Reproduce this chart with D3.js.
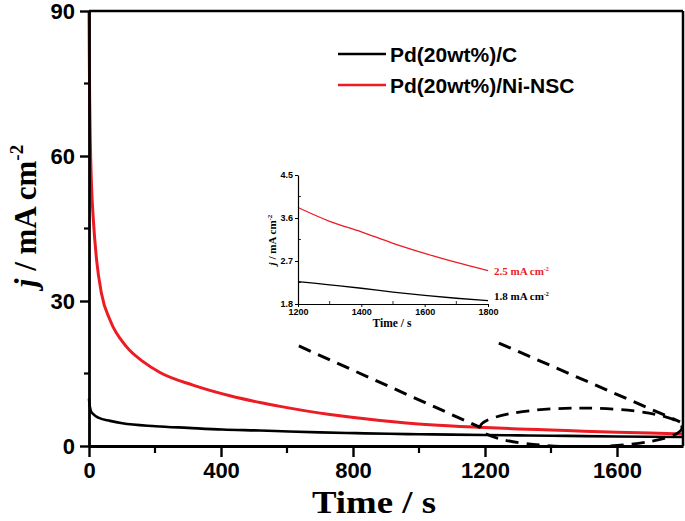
<!DOCTYPE html>
<html>
<head>
<meta charset="utf-8">
<script src="https://cdn.jsdelivr.net/npm/d3@7"></script>
<style>
  body { margin: 0; background: #fff; }
  svg { display: block; }
  .tick text { font-family: "Liberation Sans", Arial, sans-serif; font-weight: bold; }
</style>
</head>
<body>
<svg id="chart" width="685" height="521"></svg>
<script>
// chronoamperometry data (time in s, current density in mA cm-2)
var timeC   = [0, 1, 3, 6, 13, 30, 64, 101, 202, 300, 404, 518, 606, 700, 808, 909, 1000, 1100, 1200, 1300, 1400, 1500, 1600, 1700, 1800];
var jC      = [9.8, 9.0, 8.0, 7.2, 6.6, 5.8, 5.2, 4.7, 4.1, 3.75, 3.4, 3.2, 3.0, 2.82, 2.66, 2.52, 2.44, 2.35, 2.27, 2.2, 2.13, 2.05, 1.98, 1.92, 1.87];
var timeNi  = [0, 1, 2, 4, 7, 13, 23, 38, 64, 114, 165, 215, 315, 427, 518, 579, 730, 882, 1033, 1200, 1300, 1400, 1500, 1600, 1700, 1800];
var jNi     = [90, 80, 72, 63, 55, 47, 38.5, 31.5, 26, 20.5, 17.4, 15.2, 12.6, 10.4, 9.0, 8.2, 6.5, 5.3, 4.4, 3.82, 3.53, 3.31, 3.07, 2.86, 2.67, 2.5];

var seriesNames = ["Pd(20wt%)/C", "Pd(20wt%)/Ni-NSC"];
var seriesColors = ["#000000", "#ec1c24"];

var xTicks = [0, 400, 800, 1200, 1600];
var yTicks = [0, 30, 60, 90];
var insetXTicks = [1200, 1400, 1600, 1800];
var insetYTicks = [1.8, 2.7, 3.6, 4.5];
var insetEndLabels = ["2.5 mA cm", "1.8 mA cm"];

var svg = d3.select("#chart");

// main scales
var x = d3.scaleLinear().domain([0, 1800]).range([89, 683]);
var y = d3.scaleLinear().domain([0, 90]).range([446, 11]);

var dataC = timeC.map(function(t, i){ return {t: t, j: jC[i]}; });
var dataNi = timeNi.map(function(t, i){ return {t: t, j: jNi[i]}; });

var line = d3.line()
    .x(function(d){ return x(d.t); })
    .y(function(d){ return y(d.j); })
    .curve(d3.curveMonotoneX);

// curves
svg.append("path").datum(dataC)
    .attr("d", line).attr("fill", "none")
    .attr("stroke", seriesColors[0]).attr("stroke-width", 2.6);
svg.append("path").datum(dataNi)
    .attr("d", line).attr("fill", "none")
    .attr("stroke", seriesColors[1]).attr("stroke-width", 3);

// frame top + right
svg.append("line").attr("x1", x(0)).attr("x2", x(1800)).attr("y1", y(90)).attr("y2", y(90))
    .attr("stroke", "#000").attr("stroke-width", 2.5);
svg.append("line").attr("x1", x(1800)).attr("x2", x(1800)).attr("y1", y(90)).attr("y2", y(0))
    .attr("stroke", "#000").attr("stroke-width", 2.5);

// minor ticks
var xMinor = d3.range(200, 1800, 400);
var yMinor = [15, 45, 75];
svg.append("g").selectAll("line").data(xMinor).enter().append("line")
    .attr("x1", function(d){ return x(d); }).attr("x2", function(d){ return x(d); })
    .attr("y1", y(0)).attr("y2", y(0) + 7)
    .attr("stroke", "#000").attr("stroke-width", 2.2);
svg.append("g").selectAll("line").data(yMinor).enter().append("line")
    .attr("y1", function(d){ return y(d); }).attr("y2", function(d){ return y(d); })
    .attr("x1", x(0)).attr("x2", x(0) - 5)
    .attr("stroke", "#000").attr("stroke-width", 2.2);

// x axis
var gx = svg.append("g")
    .attr("transform", "translate(0," + y(0) + ")")
    .call(d3.axisBottom(x).tickValues(xTicks).tickSize(11).tickSizeOuter(0).tickPadding(5)
        .tickFormat(d3.format("d")));
gx.select(".domain").attr("stroke-width", 2.8);
gx.selectAll(".tick line").attr("stroke-width", 2.4);
gx.selectAll(".tick text").attr("font-size", 22).attr("fill", "#000");

// y axis
var gy = svg.append("g")
    .attr("transform", "translate(" + x(0) + ",0)")
    .call(d3.axisLeft(y).tickValues(yTicks).tickSize(9).tickSizeOuter(0).tickPadding(5));
gy.select(".domain").attr("stroke-width", 2.8);
gy.selectAll(".tick line").attr("stroke-width", 2.4);
gy.selectAll(".tick text").attr("font-size", 22).attr("fill", "#000");

// axis titles
svg.append("text")
    .attr("transform", "translate(374,513) scale(1.15,1)")
    .attr("text-anchor", "middle")
    .style("font-family", "'Liberation Serif', 'Times New Roman', serif")
    .style("font-weight", "bold").style("font-size", "32px")
    .text("Time / s");

var yTitle = svg.append("text")
    .attr("transform", "translate(36,216) rotate(-90)")
    .attr("text-anchor", "middle")
    .style("font-family", "'Liberation Serif', 'Times New Roman', serif")
    .style("font-weight", "bold").style("font-size", "31px");
yTitle.append("tspan").style("font-style", "italic").text("j");
yTitle.append("tspan").text(" / mA cm");
yTitle.append("tspan").attr("dy", -13).style("font-size", "19px").text("-2");

// legend
var legend = svg.append("g").selectAll("g").data(seriesNames).enter().append("g")
    .attr("transform", function(d, i){ return "translate(338," + (54 + i * 31) + ")"; });
legend.append("line").attr("x1", 0).attr("x2", 48).attr("y1", 0).attr("y2", 0)
    .attr("stroke", function(d, i){ return seriesColors[i]; }).attr("stroke-width", 2.6);
legend.append("text").attr("x", 52).attr("y", 7.5)
    .style("font-family", "'Liberation Sans', Arial, sans-serif")
    .style("font-weight", "bold").style("font-size", "21px")
    .text(function(d){ return d; });

// zoom guides (data coordinates)
var guide1 = [{t: 636, j: 20.7}, {t: 1184, j: 3.9}];
var guide2 = [{t: 1242, j: 21.3}, {t: 1791, j: 5.0}];
var guideLine = d3.line().x(function(d){ return x(d.t); }).y(function(d){ return y(d.j); });
[guide1, guide2].forEach(function(g){
    svg.append("path").datum(g).attr("d", guideLine)
        .attr("fill", "none").attr("stroke", "#000").attr("stroke-width", 3)
        .attr("stroke-dasharray", "13,8");
});
svg.append("ellipse")
    .attr("cx", x(1491)).attr("cy", y(3.85))
    .attr("rx", x(1491 + 306) - x(1491)).attr("ry", y(0) - y(4.0))
    .attr("fill", "none").attr("stroke", "#000").attr("stroke-width", 2.8)
    .attr("stroke-dasharray", "13,8");

// inset
var xi = d3.scaleLinear().domain([1200, 1800]).range([298, 488]);
var yi = d3.scaleLinear().domain([1.8, 4.5]).range([304, 175]);
var inset = svg.append("g");
var lineInset = d3.line()
    .x(function(d){ return xi(d.t); })
    .y(function(d){ return yi(d.j); })
    .curve(d3.curveMonotoneX);
inset.append("path").datum(dataC.filter(function(d){ return d.t >= 1200; }))
    .attr("d", lineInset).attr("fill", "none")
    .attr("stroke", seriesColors[0]).attr("stroke-width", 1.3);
inset.append("path").datum(dataNi.filter(function(d){ return d.t >= 1200; }))
    .attr("d", lineInset).attr("fill", "none")
    .attr("stroke", seriesColors[1]).attr("stroke-width", 1.3);

// inset minor ticks (inward)
inset.append("g").selectAll("line").data([1300, 1500, 1700]).enter().append("line")
    .attr("x1", function(d){ return xi(d); }).attr("x2", function(d){ return xi(d); })
    .attr("y1", yi(1.8)).attr("y2", yi(1.8) - 3)
    .attr("stroke", "#000").attr("stroke-width", 0.8);
inset.append("g").selectAll("line").data([2.25, 3.15, 4.05]).enter().append("line")
    .attr("y1", function(d){ return yi(d); }).attr("y2", function(d){ return yi(d); })
    .attr("x1", xi(1200)).attr("x2", xi(1200) + 3)
    .attr("stroke", "#000").attr("stroke-width", 0.8);

var gxi = inset.append("g")
    .attr("transform", "translate(0," + yi(1.8) + ")")
    .call(d3.axisBottom(xi).tickValues(insetXTicks).tickSize(3).tickSizeOuter(0).tickPadding(2)
        .tickFormat(d3.format("d")));
gxi.select(".domain").attr("stroke-width", 1.2);
gxi.selectAll(".tick text").attr("font-size", 9).attr("fill", "#000");

var gyi = inset.append("g")
    .attr("transform", "translate(" + xi(1200) + ",0)")
    .call(d3.axisLeft(yi).tickValues(insetYTicks).tickSize(3).tickSizeOuter(0).tickPadding(2)
        .tickFormat(d3.format(".1f")));
gyi.select(".domain").attr("stroke-width", 1.2);
gyi.selectAll(".tick text").attr("font-size", 9).attr("fill", "#000");

inset.append("text")
    .attr("x", 392).attr("y", 327)
    .attr("text-anchor", "middle")
    .style("font-family", "'Liberation Serif', 'Times New Roman', serif")
    .style("font-weight", "bold").style("font-size", "11.5px")
    .text("Time / s");

var yiTitle = inset.append("text")
    .attr("transform", "translate(276,240) rotate(-90)")
    .attr("text-anchor", "middle")
    .style("font-family", "'Liberation Serif', 'Times New Roman', serif")
    .style("font-weight", "bold").style("font-size", "11px");
yiTitle.append("tspan").style("font-style", "italic").text("j");
yiTitle.append("tspan").text(" / mA cm");
yiTitle.append("tspan").attr("dy", -4).style("font-size", "7px").text("-2");

// end labels
var endVals = [jNi[jNi.length - 1], jC[jC.length - 1]];
var endColors = [seriesColors[1], seriesColors[0]];
var endLabel = inset.append("g").selectAll("text").data(insetEndLabels).enter().append("text")
    .attr("x", 494)
    .attr("y", function(d, i){ return yi(endVals[i]) + (i === 0 ? 4 : -1); })
    .style("font-family", "'Liberation Serif', 'Times New Roman', serif")
    .style("font-weight", "bold").style("font-size", "11px")
    .attr("fill", function(d, i){ return endColors[i]; });
endLabel.append("tspan").text(function(d){ return d; });
endLabel.append("tspan").attr("dy", -4).style("font-size", "6px").text("-2");
</script>
</body>
</html>
